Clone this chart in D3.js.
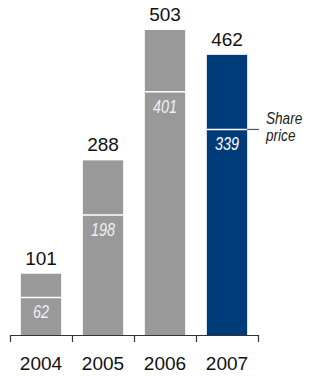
<!DOCTYPE html>
<html>
<head>
<meta charset="utf-8">
<script src="https://cdn.jsdelivr.net/npm/d3@7"></script>
<style>
  body { margin: 0; background: #fff; }
  svg { display: block; }
</style>
</head>
<body>
<script>
let years = ["2004", "2005", "2006", "2007"]
let totals = [101, 288, 503, 462]
let share_price = [62, 198, 401, 339]
let annotation = ["Share", "price"]

let width = 309, height = 376
let baseline = 335
let grey = "#999999", blue = "#003b79"
let narrow = 0.8  // no condensed font installed, so squeeze the italic labels

let svg = d3.select("body").append("svg")
    .attr("width", width)
    .attr("height", height)

let x = d3.scaleBand()
    .domain(years)
    .range([10, 258])
    .paddingInner(0.35)
    .paddingOuter(0.175)

let y = d3.scaleLinear()
    .domain([0, 503])
    .range([baseline, 30])

let bar = svg.selectAll("g.bar")
    .data(years)
    .enter()
    .append("g")
    .attr("class", "bar")
    .attr("transform", d => "translate(" + x(d) + ",0)")

bar.append("rect")
    .attr("y", (d, i) => y(totals[i]))
    .attr("width", x.bandwidth())
    .attr("height", (d, i) => baseline - y(totals[i]))
    .attr("fill", (d, i) => i == 3 ? blue : grey)

// split line at the share price value
bar.append("line")
    .attr("x1", 0)
    .attr("x2", x.bandwidth())
    .attr("y1", (d, i) => y(share_price[i]))
    .attr("y2", (d, i) => y(share_price[i]))
    .attr("stroke", "#fff")
    .attr("stroke-width", 1.5)

bar.append("text")
    .attr("transform", (d, i) => "translate(" + (x.bandwidth() / 2) + "," + (y(share_price[i]) + 21) + ") scale(" + narrow + ",1)")
    .attr("text-anchor", "middle")
    .attr("font-family", "'Liberation Sans', Arial, sans-serif")
    .attr("font-style", "italic")
    .attr("font-size", 18)
    .attr("fill", (d, i) => i == 3 ? "#fff" : "#f0f0f0")
    .text((d, i) => share_price[i])

bar.append("text")
    .attr("x", x.bandwidth() / 2)
    .attr("y", (d, i) => y(totals[i]) - 9)
    .attr("text-anchor", "middle")
    .attr("font-family", "Arial, 'Liberation Sans', sans-serif")
    .attr("font-size", 19)
    .attr("fill", "#111")
    .text((d, i) => totals[i])

// axis with ticks on the band edges
let edges = d3.scaleLinear().domain([0, years.length]).range([10, 258])
let axis = d3.axisBottom(edges)
    .tickValues(d3.range(years.length + 1))
    .tickFormat("")
    .tickSize(7)
    .tickSizeOuter(0)

svg.append("g")
    .attr("transform", "translate(0," + baseline + ")")
    .call(axis)
    .call(g => g.selectAll("path, line").attr("stroke", "#333").attr("stroke-width", 1.2))

svg.selectAll("text.year")
    .data(years)
    .enter()
    .append("text")
    .attr("class", "year")
    .attr("x", d => x(d) + x.bandwidth() / 2)
    .attr("y", 370)
    .attr("text-anchor", "middle")
    .attr("font-family", "Arial, 'Liberation Sans', sans-serif")
    .attr("font-size", 19)
    .attr("fill", "#111")
    .text(d => d)

// share price annotation
let last = years.length - 1
svg.append("line")
    .attr("x1", x(years[last]) + x.bandwidth())
    .attr("x2", 259)
    .attr("y1", y(share_price[last]))
    .attr("y2", y(share_price[last]))
    .attr("stroke", "#555")
    .attr("stroke-width", 1.2)

svg.append("g")
    .attr("transform", "translate(266,0) scale(" + narrow + ",1)")
    .selectAll("text")
    .data(annotation)
    .enter()
    .append("text")
    .attr("x", 0)
    .attr("y", (d, i) => 124 + i * 17)
    .attr("font-family", "'Liberation Sans', Arial, sans-serif")
    .attr("font-style", "italic")
    .attr("font-size", 17)
    .attr("fill", "#222")
    .text(d => d)
</script>
</body>
</html>
